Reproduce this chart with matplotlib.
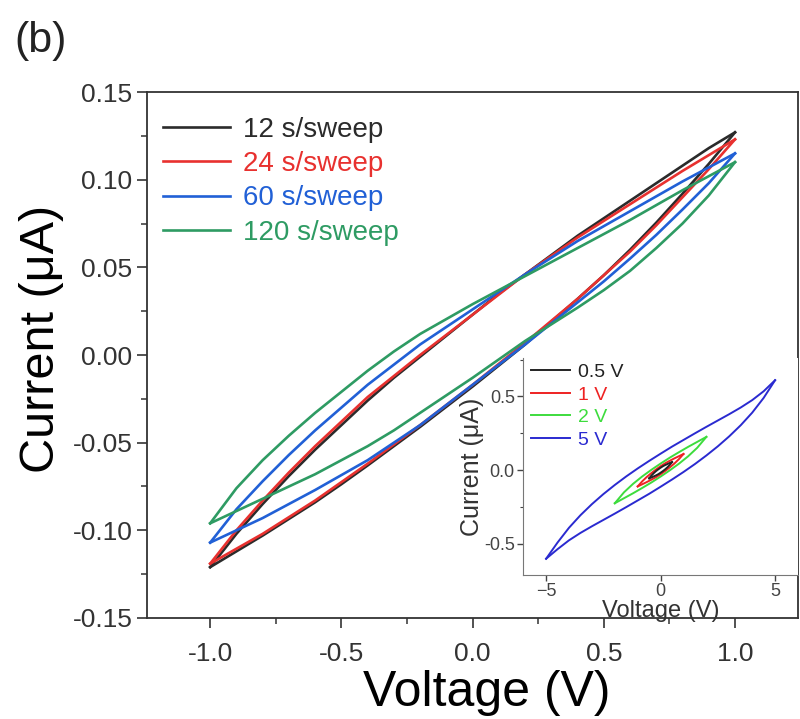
import matplotlib.pyplot as plt
from matplotlib.ticker import MultipleLocator

plt.rcParams['font.family'] = ['Liberation Sans', 'DejaVu Sans']

# Main panel: I-V loops at four sweep rates (+/-1 V)
volts = [-1.0, -0.9, -0.8, -0.7, -0.6, -0.5, -0.4, -0.3, -0.2, -0.1, 0.0,
         0.1, 0.2, 0.3, 0.4, 0.5, 0.6, 0.7, 0.8, 0.9, 1.0]
labels = ['12 s/sweep', '24 s/sweep', '60 s/sweep', '120 s/sweep']
colors = ['#2b2b2b', '#e8312f', '#2160d6', '#2e9b63']

# forward (upper) and return (lower) branches, current in uA
up_12 = [-0.121, -0.102, -0.085, -0.069, -0.054, -0.040, -0.026, -0.013, -0.001, 0.011, 0.023,
         0.035, 0.046, 0.057, 0.068, 0.078, 0.088, 0.098, 0.108, 0.118, 0.127]
lo_12 = [-0.121, -0.112, -0.103, -0.0935, -0.084, -0.0737, -0.063, -0.052, -0.041, -0.0295, -0.018,
         -0.006, 0.006, 0.019, 0.032, 0.0455, 0.060, 0.0755, 0.092, 0.109, 0.127]
up_24 = [-0.119, -0.100, -0.083, -0.067, -0.052, -0.038, -0.024, -0.012, 0.000, 0.0115, 0.023,
         0.0345, 0.046, 0.0565, 0.067, 0.0765, 0.086, 0.0955, 0.105, 0.114, 0.123]
lo_24 = [-0.119, -0.1105, -0.102, -0.0925, -0.083, -0.0725, -0.062, -0.051, -0.040, -0.0285, -0.017,
         -0.005, 0.007, 0.0195, 0.032, 0.0455, 0.059, 0.074, 0.090, 0.106, 0.123]
up_60 = [-0.107, -0.088, -0.072, -0.057, -0.043, -0.030, -0.017, -0.0055, 0.006, 0.016, 0.026,
         0.036, 0.046, 0.0555, 0.065, 0.0735, 0.082, 0.0905, 0.099, 0.107, 0.115]
lo_60 = [-0.107, -0.100, -0.093, -0.085, -0.077, -0.0685, -0.060, -0.050, -0.040, -0.0285, -0.017,
         -0.0055, 0.006, 0.018, 0.030, 0.042, 0.055, 0.0685, 0.083, 0.098, 0.115]
up_120 = [-0.096, -0.076, -0.060, -0.046, -0.033, -0.021, -0.009, 0.002, 0.012, 0.0205, 0.029,
          0.037, 0.045, 0.053, 0.061, 0.069, 0.077, 0.0855, 0.094, 0.102, 0.110]
lo_120 = [-0.096, -0.089, -0.082, -0.075, -0.068, -0.060, -0.052, -0.043, -0.033, -0.023, -0.013,
          -0.0025, 0.008, 0.0175, 0.027, 0.037, 0.048, 0.061, 0.075, 0.091, 0.110]

upper = [up_12, up_24, up_60, up_120]
lower = [lo_12, lo_24, lo_60, lo_120]

# Inset: loops at different sweep amplitudes
in_labels = ['0.5 V', '1 V', '2 V', '5 V']
in_colors = ['#222222', '#ee2222', '#3ddc3d', '#2a2ad0']
v_05 = [-0.5, -0.4, -0.3, -0.2, -0.1, 0.0, 0.1, 0.2, 0.3, 0.4, 0.5]
v_1 = [-1.0, -0.8, -0.6, -0.4, -0.2, 0.0, 0.2, 0.4, 0.6, 0.8, 1.0]
v_2 = [-2.0, -1.6, -1.2, -0.8, -0.4, 0.0, 0.4, 0.8, 1.2, 1.6, 2.0]
v_5 = [-5.0, -4.5, -4.0, -3.5, -3.0, -2.5, -2.0, -1.5, -1.0, -0.5, 0.0,
       0.5, 1.0, 1.5, 2.0, 2.5, 3.0, 3.5, 4.0, 4.5, 5.0]
in_up_05 = [-0.055, -0.036, -0.020, -0.006, 0.006, 0.017, 0.027, 0.035, 0.042, 0.049, 0.055]
in_lo_05 = [-0.055, -0.049, -0.042, -0.035, -0.027, -0.017, -0.006, 0.006, 0.020, 0.036, 0.055]
in_up_1 = [-0.110, -0.075, -0.045, -0.019, 0.005, 0.027, 0.047, 0.064, 0.080, 0.095, 0.110]
in_lo_1 = [-0.110, -0.095, -0.080, -0.064, -0.047, -0.027, -0.005, 0.019, 0.045, 0.075, 0.110]
in_up_2 = [-0.224, -0.150, -0.092, -0.042, 0.003, 0.045, 0.085, 0.122, 0.158, 0.192, 0.226]
in_lo_2 = [-0.224, -0.190, -0.156, -0.120, -0.083, -0.043, -0.001, 0.044, 0.094, 0.152, 0.226]
in_up_5 = [-0.600, -0.490, -0.390, -0.305, -0.230, -0.162, -0.100, -0.042, 0.012, 0.063, 0.112,
           0.160, 0.205, 0.250, 0.294, 0.337, 0.380, 0.425, 0.475, 0.535, 0.610]
in_lo_5 = [-0.600, -0.535, -0.475, -0.425, -0.380, -0.337, -0.294, -0.250, -0.205, -0.160, -0.112,
           -0.063, -0.012, 0.042, 0.100, 0.162, 0.230, 0.305, 0.390, 0.490, 0.610]

in_v = [v_05, v_1, v_2, v_5]
in_up = [in_up_05, in_up_1, in_up_2, in_up_5]
in_lo = [in_lo_05, in_lo_1, in_lo_2, in_lo_5]

fig = plt.figure(figsize=(8, 7.19), dpi=100)
ax = fig.add_axes([0.184, 0.1405, 0.8135, 0.7315])

for up, lo, c, lab in zip(upper, lower, colors, labels):
    ax.plot(volts, up, color=c, lw=1.9, label=lab)
    ax.plot(volts, lo, color=c, lw=1.9)

ax.set_xlim(-1.24, 1.24)
ax.set_ylim(-0.15, 0.15)
ax.xaxis.set_major_locator(MultipleLocator(0.5))
ax.xaxis.set_minor_locator(MultipleLocator(0.25))
ax.yaxis.set_major_locator(MultipleLocator(0.05))
ax.yaxis.set_minor_locator(MultipleLocator(0.025))
ax.xaxis.set_major_formatter(plt.FormatStrFormatter('%.1f'))
ax.yaxis.set_major_formatter(plt.FormatStrFormatter('%.2f'))
ax.tick_params(which='major', direction='out', length=7, width=1.2,
               labelsize=19, colors='#333333')
ax.tick_params(which='minor', direction='out', length=4, width=1.1,
               colors='#333333')
ax.tick_params(axis='x', pad=10)
for s in ax.spines.values():
    s.set_linewidth(1.3)
    s.set_color('#333333')
ax.set_xlabel('Voltage (V)', fontsize=36)
ax.xaxis.set_label_coords(0.522, -0.143, transform=ax.transAxes)
ax.xaxis.label.set_verticalalignment('center')
ax.set_ylabel('Current (\u03bcA)', fontsize=35, labelpad=6)
ax.yaxis.label.set_y(0.53)

leg = ax.legend(loc='upper left', bbox_to_anchor=(0.025, 0.953), frameon=False,
                fontsize=20, handlelength=2.4, handletextpad=0.47,
                labelspacing=0.3, borderpad=0, borderaxespad=0)
for t, c in zip(leg.get_texts(), colors):
    t.set_color(c)

fig.text(0.018, 0.927, '(b)', fontsize=31, color='#222222')

# Inset
ins = fig.add_axes([0.654, 0.2003, 0.3435, 0.3017])
ins.set_facecolor('white')
handles = []
for v, up, lo, c, lab in reversed(list(zip(in_v, in_up, in_lo, in_colors, in_labels))):
    h, = ins.plot(v, up, color=c, lw=1.4, label=lab)
    ins.plot(v, lo, color=c, lw=1.4)
    handles.insert(0, h)
ins.set_xlim(-6, 6)
ins.set_ylim(-0.71, 0.76)
ins.xaxis.set_major_locator(MultipleLocator(5))
ins.yaxis.set_major_locator(MultipleLocator(0.5))
ins.yaxis.set_minor_locator(MultipleLocator(0.25))
ins.yaxis.set_major_formatter(plt.FormatStrFormatter('%.1f'))
ins.tick_params(which='major', direction='out', length=4, width=1, labelsize=13,
                colors='#444444', pad=2)
ins.tick_params(which='minor', direction='out', length=2.5, width=0.8,
                colors='#444444')
ins.spines['top'].set_visible(False)
ins.spines['right'].set_visible(False)
for s in ['left', 'bottom']:
    ins.spines[s].set_color('#777777')
ins.set_xlabel('Voltage (V)', fontsize=17, labelpad=0, color='#333333')
ins.set_ylabel('Current (\u03bcA)', fontsize=18, labelpad=0, color='#333333')
ileg = ins.legend(handles=handles, loc='upper left', bbox_to_anchor=(0.03, 0.975),
                  frameon=False, fontsize=14, handlelength=2.0, handletextpad=0.4,
                  labelspacing=0.25, borderpad=0, borderaxespad=0)
for t, c in zip(ileg.get_texts(), in_colors):
    t.set_color(c)

fig.savefig('out.png', dpi=100)
